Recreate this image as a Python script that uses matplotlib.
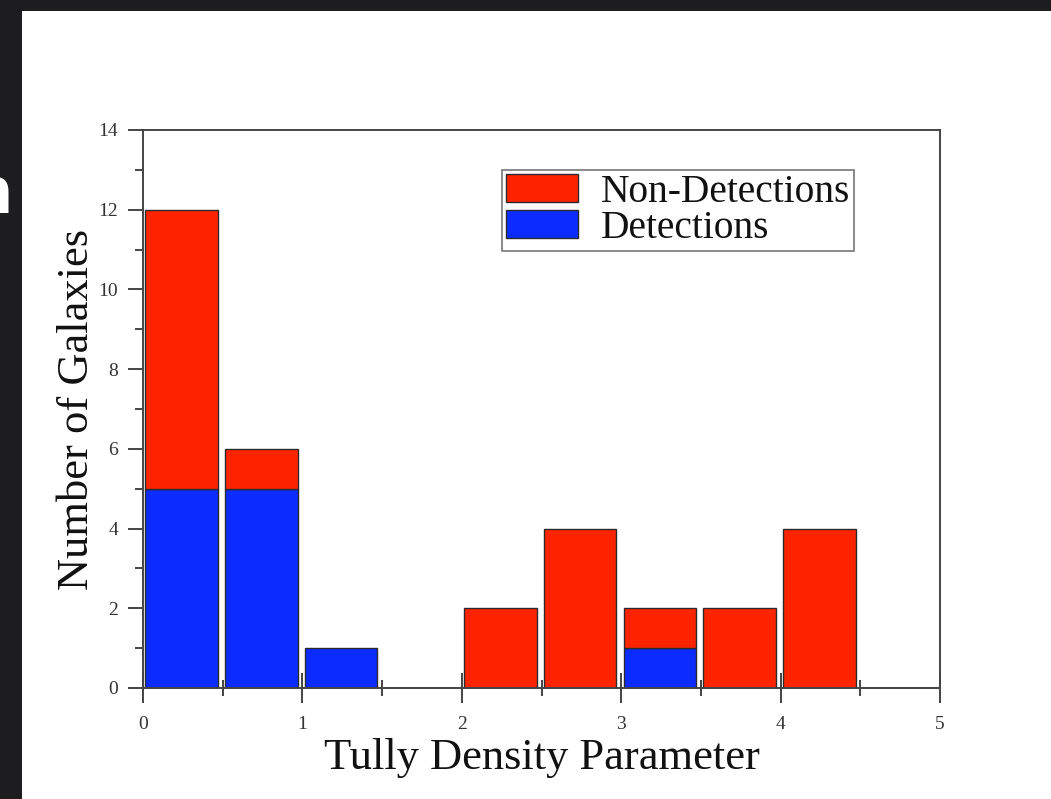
import matplotlib
matplotlib.use("Agg")
import matplotlib.pyplot as plt
from matplotlib.patches import Rectangle, Patch
from matplotlib.ticker import MultipleLocator

# Histogram bins of the Tully density parameter (left edges, width 0.5)
bin_left = [0.0, 0.5, 1.0, 1.5, 2.0, 2.5, 3.0, 3.5, 4.0, 4.5]
detections = [5, 5, 1, 0, 0, 0, 1, 0, 0, 0]
non_detections = [7, 1, 0, 0, 2, 4, 1, 2, 4, 0]

x_ticks = [0, 1, 2, 3, 4, 5]
y_ticks = [0, 2, 4, 6, 8, 10, 12, 14]

RED = "#ff2400"
BLUE = "#0c2cff"
EDGE = "#2a2a2a"
SERIF = ["Liberation Serif", "DejaVu Serif"]

fig = plt.figure(figsize=(10.51, 7.99), dpi=100)
fig.patch.set_facecolor("#1d1d1f")

# white slide panel
fig.patches.append(Rectangle((22 / 1051, 0), 1.0, (799 - 11) / 799,
                             transform=fig.transFigure, facecolor="white",
                             edgecolor="none", zorder=-5))
# clipped fragment of the slide title at the far left
fig.text(-0.031, 0.756, "n", color="white", fontsize=46, fontweight="bold",
         family="DejaVu Sans", ha="left", va="center", zorder=1)

ax = fig.add_axes([143 / 1051, 111 / 799, 797 / 1051, 558 / 799])
ax.set_zorder(3)
ax.set_facecolor("white")

bar_w = 0.455
offset = 0.015
for xl, d, n in zip(bin_left, detections, non_detections):
    if d > 0:
        ax.bar(xl + offset, d, width=bar_w, align="edge", color=BLUE,
               edgecolor=EDGE, linewidth=1.0, zorder=2)
    if n > 0:
        ax.bar(xl + offset, n, bottom=d, width=bar_w, align="edge", color=RED,
               edgecolor=EDGE, linewidth=1.0, zorder=2)

ax.set_xlim(0, 5)
ax.set_ylim(0, 14)
ax.set_xticks(x_ticks)
ax.set_yticks(y_ticks)
ax.xaxis.set_minor_locator(MultipleLocator(0.5))
ax.yaxis.set_minor_locator(MultipleLocator(1))

for s in ax.spines.values():
    s.set_color("#444444")
    s.set_linewidth(1.4)

ax.tick_params(axis="x", which="major", direction="inout", length=21, width=1.4,
               color="#444444", labelsize=14, labelcolor="#333333", pad=10,
               top=False)
ax.tick_params(axis="x", which="minor", direction="inout", length=12, width=1.4,
               color="#444444", top=False)
ax.tick_params(axis="y", which="major", direction="out", length=10.5, width=1.4,
               color="#444444", labelsize=14, labelcolor="#333333", pad=7.5,
               right=False)
ax.tick_params(axis="y", which="minor", direction="out", length=5.5, width=1.4,
               color="#444444", right=False)
for lab in ax.get_xticklabels() + ax.get_yticklabels():
    lab.set_family(SERIF)

ax.set_xlabel("Tully Density Parameter", family=SERIF, fontsize=32,
              color="#111111", labelpad=3)
ax.set_ylabel("Number of Galaxies", family=SERIF, fontsize=32,
              color="#111111", labelpad=1)

handles = [Patch(facecolor=RED, edgecolor=EDGE, linewidth=1.0),
           Patch(facecolor=BLUE, edgecolor=EDGE, linewidth=1.0)]
leg = ax.legend(handles, ["Non-Detections", "Detections"],
                loc="upper left", bbox_to_anchor=(0.450, 0.928),
                prop={"family": SERIF, "size": 28.4},
                frameon=True, fancybox=False, edgecolor="#555555",
                borderpad=0.1, labelspacing=-0.03, handlelength=1.83,
                handleheight=0.71, handletextpad=0.58, borderaxespad=0)
leg.get_frame().set_linewidth(1.2)
for t in leg.get_texts():
    t.set_color("#111111")

fig.savefig("out.png", dpi=100, facecolor=fig.get_facecolor())
